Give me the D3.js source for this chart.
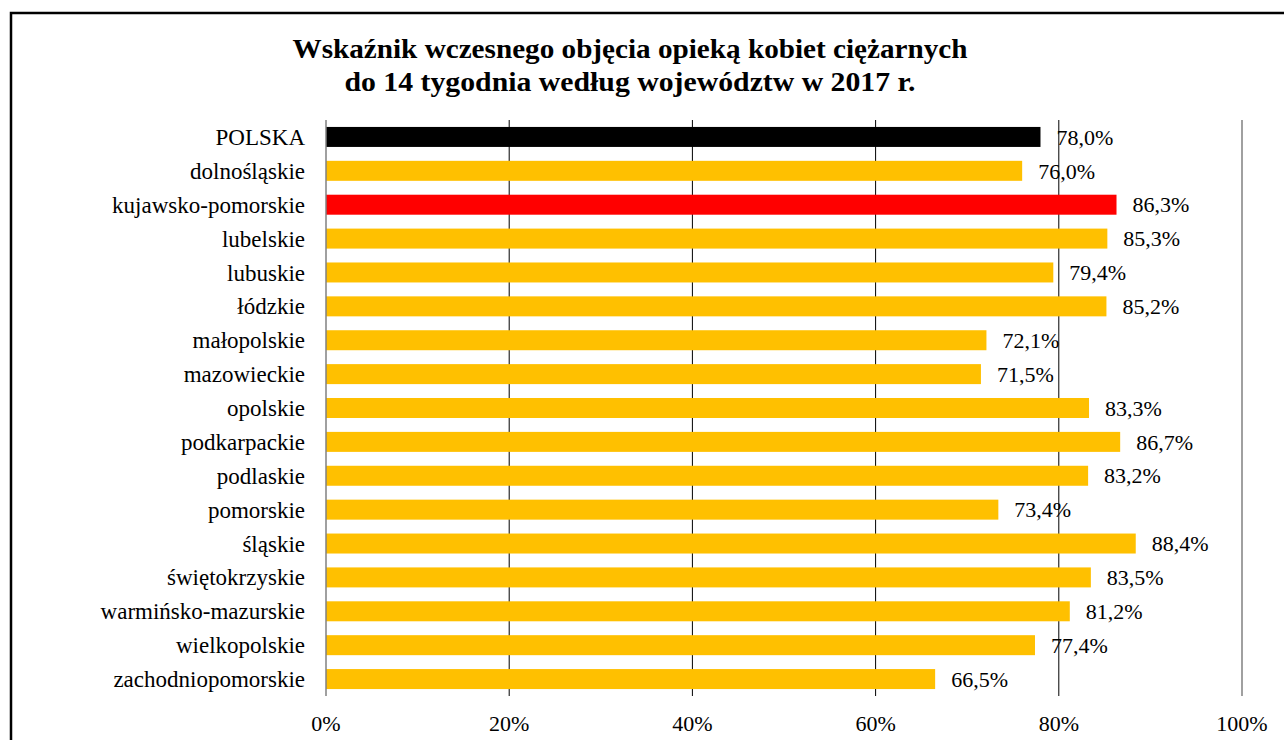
<!DOCTYPE html>
<html>
<head>
<meta charset="utf-8">
<script src="https://cdn.jsdelivr.net/npm/d3@7"></script>
<style>
  body { margin: 0; padding: 0; background: #fff; }
</style>
</head>
<body>
<div id="viz"></div>
<script>
// data
var regions = ["POLSKA", "dolnośląskie", "kujawsko-pomorskie", "lubelskie", "lubuskie",
  "łódzkie", "małopolskie", "mazowieckie", "opolskie", "podkarpackie", "podlaskie",
  "pomorskie", "śląskie", "świętokrzyskie", "warmińsko-mazurskie", "wielkopolskie",
  "zachodniopomorskie"];
var values = [78.0, 76.0, 86.3, 85.3, 79.4, 85.2, 72.1, 71.5, 83.3, 86.7, 83.2, 73.4,
  88.4, 83.5, 81.2, 77.4, 66.5];
var ticks = [0, 20, 40, 60, 80, 100];
var titleLines = ["Wskaźnik wczesnego objęcia opieką kobiet ciężarnych",
  "do 14 tygodnia według województw w 2017 r."];

function barColor(name) {
  if (name === "POLSKA") return "#000000";
  if (name === "kujawsko-pomorskie") return "#ff0000";
  return "#ffc000";
}
function fmt(v) { return v.toFixed(1).replace(".", ",") + "%"; }

var W = 1284, H = 740;
var svg = d3.select("#viz").append("svg").attr("width", W).attr("height", H)
  .style("display", "block")
  .attr("font-family", "Liberation Serif");

// outer frame (runs past right and bottom edges)
svg.append("rect").attr("x", 11).attr("y", 13).attr("width", 1300).attr("height", 800)
  .attr("fill", "none").attr("stroke", "#000").attr("stroke-width", 2.5);

// title
var tl = svg.append("g").attr("font-weight", "bold").attr("font-size", 28)
  .attr("text-anchor", "middle");
tl.append("text").attr("x", 630).attr("y", 58).attr("textLength", 675)
  .attr("lengthAdjust", "spacingAndGlyphs").text(titleLines[0]);
tl.append("text").attr("x", 630).attr("y", 91).attr("textLength", 571)
  .attr("lengthAdjust", "spacingAndGlyphs").text(titleLines[1]);

var x = d3.scaleLinear().domain([0, 100]).range([326, 1242]);
var y = d3.scaleBand().domain(regions).range([120, 696]).paddingInner(0.41).paddingOuter(0.205);

// gridlines
svg.append("g").selectAll("line").data(ticks.slice(1)).enter().append("line")
  .attr("x1", function(d) { return x(d); }).attr("x2", function(d) { return x(d); })
  .attr("y1", 120).attr("y2", 696)
  .attr("stroke", function(d) { return d === 100 ? "#808080" : "#000"; })
  .attr("stroke-width", function(d) { return d === 100 ? 1.5 : 1; });

// bars
svg.append("g").selectAll("rect").data(regions).enter().append("rect")
  .attr("x", x(0)).attr("y", function(d) { return y(d); })
  .attr("width", function(d, i) { return x(values[i]) - x(0); })
  .attr("height", y.bandwidth())
  .attr("fill", barColor);

// value axis line at 0
svg.append("line").attr("x1", x(0)).attr("x2", x(0)).attr("y1", 120).attr("y2", 696)
  .attr("stroke", "#808080").attr("stroke-width", 1.5);

// category labels
svg.append("g").attr("font-size", 23).attr("text-anchor", "end").selectAll("text")
  .data(regions).enter().append("text")
  .attr("x", 305).attr("y", function(d) { return y(d) + y.bandwidth() / 2; })
  .attr("dy", "0.35em").text(function(d) { return d; });

// value labels
svg.append("g").attr("font-size", 22).selectAll("text")
  .data(regions).enter().append("text")
  .attr("x", function(d, i) { return x(values[i]) + 16; })
  .attr("y", function(d) { return y(d) + y.bandwidth() / 2; })
  .attr("dy", "0.35em").text(function(d, i) { return fmt(values[i]); });

// tick labels
svg.append("g").attr("font-size", 22).attr("text-anchor", "middle").selectAll("text")
  .data(ticks).enter().append("text")
  .attr("x", function(d) { return x(d); }).attr("y", 731)
  .text(function(d) { return d + "%"; });
</script>
</body>
</html>
